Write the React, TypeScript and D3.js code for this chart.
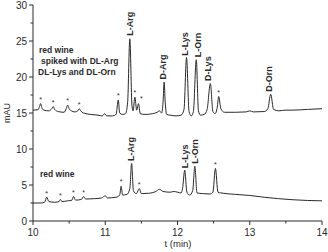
import React from "react";
import * as d3 from "d3";

const upperT = [10.0,10.07,10.09,10.105,10.12,10.15,10.22,10.26,10.28,10.3,10.35,10.43,10.46,10.48,10.5,10.53,10.58,10.62,10.64,10.66,10.7,10.8,10.9,10.96,10.99,11.02,11.1,11.15,11.18,11.2,11.24,11.28,11.31,11.34,11.37,11.385,11.41,11.435,11.46,11.485,11.55,11.65,11.72,11.75,11.78,11.8,11.815,11.83,11.85,11.9,11.98,12.05,12.09,12.125,12.16,12.19,12.22,12.26,12.29,12.32,12.37,12.41,12.455,12.49,12.52,12.55,12.57,12.6,12.65,12.8,12.95,13.0,13.05,13.2,13.25,13.29,13.33,13.4,13.5,13.6,13.8,14.0];
const upperV = [15.4,15.45,15.9,16.3,15.8,15.4,15.3,15.6,15.9,15.5,15.2,15.1,15.6,16.1,15.6,15.3,15.15,15.3,15.6,15.3,15.0,14.8,14.7,14.6,14.9,14.6,14.6,14.8,16.8,15.0,14.8,14.9,16.5,25.3,16.0,15.3,17.2,15.4,16.3,14.9,14.8,14.9,15.1,15.3,15.0,16.5,19.3,16.5,14.8,14.7,14.6,14.7,15.5,22.7,15.2,14.6,15.2,22.4,15.3,14.7,14.8,15.5,19.1,15.2,14.9,15.8,17.3,15.6,15.1,15.1,15.15,15.3,15.15,15.2,15.6,17.6,15.5,15.3,15.4,15.4,15.5,15.6];

const lowerT = [10.0,10.1,10.16,10.19,10.22,10.3,10.36,10.38,10.4,10.48,10.54,10.56,10.59,10.67,10.7,10.73,10.85,10.95,11.0,11.03,11.15,11.2,11.22,11.24,11.3,11.34,11.365,11.39,11.43,11.47,11.5,11.6,11.7,11.75,11.8,11.9,11.95,12.0,12.05,12.07,12.1,12.13,12.17,12.21,12.24,12.27,12.35,12.45,12.49,12.525,12.56,12.6,12.8,13.0,13.2,13.4,13.6,13.8,14.0];
const lowerV = [2.5,2.5,2.6,3.3,2.7,2.6,2.7,3.0,2.7,2.8,2.9,3.4,2.9,3.0,3.4,3.05,3.1,3.2,3.5,3.2,3.3,3.6,4.85,3.6,3.7,4.5,8.0,4.2,3.8,4.5,3.8,3.85,4.1,4.4,4.1,4.0,4.1,4.0,3.9,4.5,7.05,4.0,3.6,4.2,7.6,3.9,3.8,3.75,4.0,7.3,4.0,3.9,3.7,3.55,3.3,3.1,2.95,2.85,2.8];

// peak labels: [t of label, value of label bottom, text]
const upperLabels: [number, number, string][] = [
  [11.335, 25.6, "L-Arg"],
  [11.79, 19.5, "D-Arg"],
  [12.1, 22.8, "L-Lys"],
  [12.27, 22.6, "L-Orn"],
  [12.42, 19.3, "D-Lys"],
  [13.26, 17.8, "D-Orn"],
];
const lowerLabels: [number, number, string][] = [
  [11.35, 8.2, "L-Arg"],
  [12.09, 7.2, "L-Lys"],
  [12.23, 7.8, "L-Orn"],
];
const upperStars: [number, number][] = [[10.105,16.4],[10.28,16.0],[10.48,16.2],[10.64,15.7],[11.18,16.9],[11.41,17.3],[11.5,16.5],[12.57,17.4]];
const lowerStars: [number, number][] = [[10.19,3.4],[10.38,3.1],[10.56,3.5],[10.7,3.5],[11.22,4.95],[11.47,4.6],[12.525,7.4]];

const xTicks = [10, 11, 12, 13, 14];
const yTicks = [0, 5, 10, 15, 20, 25, 30];

export default function App() {
  const W = 328, H = 252;
  const x = d3.scaleLinear().domain([10, 14]).range([33, 322]);
  const y = d3.scaleLinear().domain([0, 30]).range([221, 5]);
  const line = d3.line<[number, number]>().x(d => x(d[0])).y(d => y(d[1])).curve(d3.curveMonotoneX);
  const up = upperT.map((t, i) => [t, upperV[i]] as [number, number]);
  const lo = lowerT.map((t, i) => [t, lowerV[i]] as [number, number]);
  const font = "Liberation Sans, Arial, Helvetica, sans-serif";
  const minorX = d3.range(10.5, 14, 1);
  const minorY = d3.range(2.5, 30, 5);
  const col = "#2a2a2a";
  return (
    <svg width={W} height={H} style={{ position: "absolute", left: 0, top: 0, background: "#fff" }} fontFamily={font}>
      <rect width={W} height={H} fill="#fff" />
      {/* axes */}
      <line x1={x(10)} x2={x(14)} y1={y(0)} y2={y(0)} stroke={col} strokeWidth={1} />
      <line x1={x(10)} x2={x(10)} y1={y(0)} y2={y(30)} stroke={col} strokeWidth={1} />
      {xTicks.map(t => (
        <g key={"xt" + t}>
          <line x1={x(t)} x2={x(t)} y1={y(0)} y2={y(0) + 4} stroke={col} />
          <text x={x(t)} y={y(0) + 15} textAnchor="middle" fontSize={10} fill={col}>{t}</text>
        </g>
      ))}
      {minorX.map(t => (
        <line key={"xm" + t} x1={x(t)} x2={x(t)} y1={y(0)} y2={y(0) + 2.5} stroke={col} />
      ))}
      {yTicks.map(v => (
        <g key={"yt" + v}>
          <line x1={x(10) - 4} x2={x(10)} y1={y(v)} y2={y(v)} stroke={col} />
          <text x={x(10) - 6} y={y(v) + 3.5} textAnchor="end" fontSize={10} fill={col}>{v}</text>
        </g>
      ))}
      {minorY.map(v => (
        <line key={"ym" + v} x1={x(10) - 2.5} x2={x(10)} y1={y(v)} y2={y(v)} stroke={col} />
      ))}
      <text x={178} y={247} textAnchor="middle" fontSize={9.5} fill={col}>t (min)</text>
      <text transform={`translate(10,${(y(0) + y(30)) / 2}) rotate(-90)`} textAnchor="middle" fontSize={9} fill={col}>mAU</text>
      {/* traces */}
      <path d={line(up) || ""} fill="none" stroke={col} strokeWidth={1} />
      <path d={line(lo) || ""} fill="none" stroke={col} strokeWidth={1} />
      {/* annotations */}
      <g fontWeight="bold" fontSize={8.5} fill={col}>
        <text x={39} y={53}>red wine</text>
        <text x={41} y={64}>spiked with DL-Arg</text>
        <text x={38} y={75}>DL-Lys and DL-Orn</text>
        <text x={40} y={177}>red wine</text>
      </g>
      <g fontWeight="bold" fontSize={9} fill={col}>
        {upperLabels.concat(lowerLabels).map(([t, v, s], i) => (
          <text key={"pl" + i} transform={`translate(${x(t) + 3.5},${y(v) - 1}) rotate(-90)`}>{s}</text>
        ))}
      </g>
      <g fontSize={7} fill={col}>
        {upperStars.concat(lowerStars).map(([t, v], i) => (
          <text key={"st" + i} x={x(t)} y={y(v) - 1} textAnchor="middle">*</text>
        ))}
      </g>
    </svg>
  );
}
